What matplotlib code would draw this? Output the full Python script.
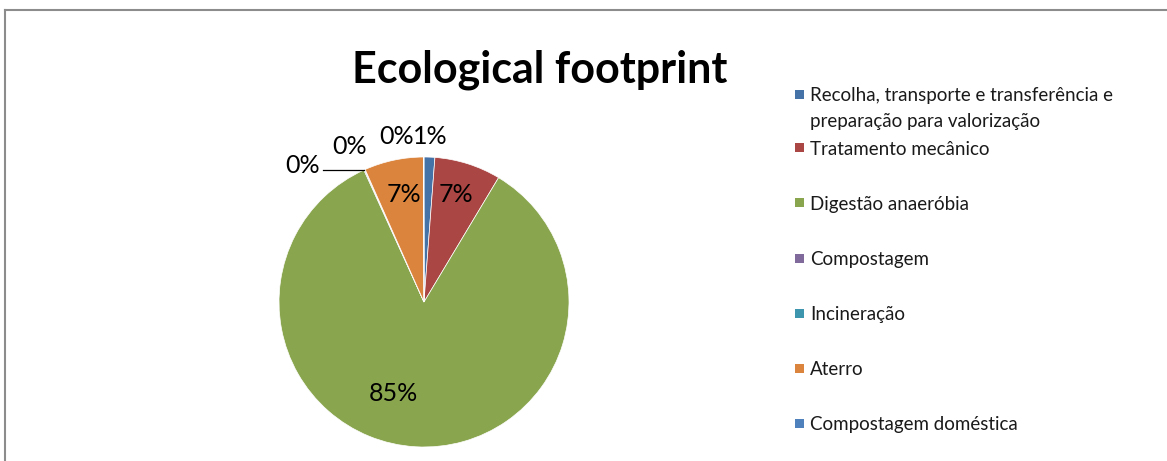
import numpy as np
import matplotlib
matplotlib.use('Agg')
import matplotlib.pyplot as plt
from matplotlib.lines import Line2D
from matplotlib.patches import Rectangle

plt.rcParams['font.family'] = ['Lato', 'DejaVu Sans']

categories = [
    'Recolha, transporte e transferência e\npreparação para valorização',
    'Tratamento mecânico',
    'Digestão anaeróbia',
    'Compostagem',
    'Incineração',
    'Aterro',
    'Compostagem doméstica',
]
shares = [1.2, 7.4, 84.6, 0.1, 0.05, 6.6, 0.05]
colors = ['#4572A7', '#AA4643', '#89A54E', '#80699B', '#3D96AE', '#DB843D', '#4F81BD']

W, H = 1167, 461
fig = plt.figure(figsize=(W / 100, H / 100), dpi=100)

# chart frame (top and left edges visible)
fig.add_artist(Line2D([5 / W, 5 / W], [0, 1 - 10 / H], color='#8c8c8c', lw=1.5))
fig.add_artist(Line2D([5 / W, 1], [1 - 10 / H, 1 - 10 / H], color='#8c8c8c', lw=1.5))

# pie axes: centre at (424, 302) px, radius 145 px
cx, cy, r = 424, 302, 145
ax = fig.add_axes([(cx - r) / W, 1 - (cy + r) / H, 2 * r / W, 2 * r / H])
wedges, texts, autotexts = ax.pie(
    shares, colors=colors, startangle=90, counterclock=False,
    autopct='%.0f%%', pctdistance=0.72,
    wedgeprops=dict(linewidth=0.5, edgecolor='white'),
    textprops=dict(fontsize=18, color='black'))
ax.set_xlim(-1, 1)
ax.set_ylim(-1, 1)
ax.set_aspect('auto')
ax.axis('off')

# nudge inside labels
autotexts[1].set_position((0.22, 0.74))
autotexts[2].set_position((-0.21, -0.63))
autotexts[5].set_position((-0.14, 0.74))

# small slices get their labels outside the rim
outside = {0: (0.04, 1.14), 6: (-0.19, 1.14), 4: (-0.51, 1.07), 3: (-0.84, 0.94)}
for i, (x, y) in outside.items():
    autotexts[i].set_position((x, y))
    autotexts[i].set_clip_on(False)

# leader line for the Compostagem label
w = wedges[3]
ang = np.deg2rad((w.theta1 + w.theta2) / 2)
ex, ey = np.cos(ang), np.sin(ang)
ax.plot([-0.70, ex], [ey, ey], color='black', lw=0.9, clip_on=False)

# title
fig.text(540 / W, 1 - 70 / H, 'Ecological footprint', ha='center', va='center',
         fontsize=31, fontweight='bold', color='black')

# legend
rows = [95, 148, 203, 258, 313, 368, 423]
for y, lab, c in zip(rows, categories, colors):
    fig.add_artist(Rectangle((795 / W, 1 - (y + 4.5) / H), 9 / W, 9 / H,
                             facecolor=c, edgecolor='none'))
    if '\n' in lab:
        fig.text(810 / W, 1 - (y - 8) / H, lab, ha='left', va='top',
                 fontsize=13.5, color='#1a1a1a', linespacing=1.65)
    else:
        fig.text(810 / W, 1 - y / H, lab, ha='left', va='center_baseline',
                 fontsize=13.5, color='#1a1a1a')

fig.savefig('out.png', dpi=100)
